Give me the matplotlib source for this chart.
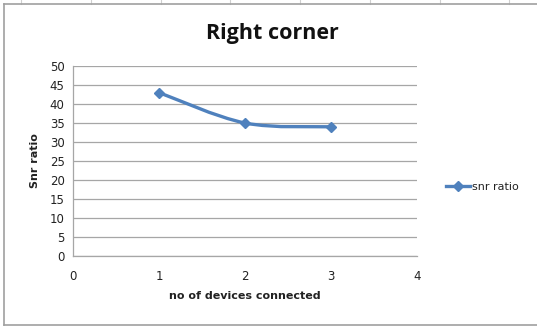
import matplotlib
matplotlib.use("Agg")
import matplotlib.pyplot as plt
import numpy as np
from matplotlib.path import Path
from matplotlib.patches import PathPatch
from matplotlib.lines import Line2D

# Data
devices = [1, 2, 3]
snr = [43, 35, 34]
series_name = "snr ratio"

title = "Right corner"
xLabel = "no of devices connected"
yLabel = "Snr ratio"
xTicks = [0, 1, 2, 3, 4]
yTicks = list(range(0, 55, 5))

lineColor = "#4F81BD"
gridColor = "#A6A6A6"

fig = plt.figure(figsize=(5.37, 3.27), dpi=100)
fig.patch.set_facecolor("white")

# outer chart border (Excel chart area) + bits of sheet grid above it
W, H = 537, 327
for gx in [21, 91, 161, 230, 300, 370, 440, 509]:
    fig.add_artist(Line2D([gx / W, gx / W], [1, 1 - 4 / H], color="#D0D0D0", lw=0.8))
fig.add_artist(Line2D([4 / W, 4 / W], [1 - 4 / H, 1 - 325 / H], color="#A0A0A0", lw=1.2))
fig.add_artist(Line2D([4 / W, 1], [1 - 4 / H, 1 - 4 / H], color="#A0A0A0", lw=1.2))
fig.add_artist(Line2D([4 / W, 1], [1 - 325 / H, 1 - 325 / H], color="#A0A0A0", lw=1.2))

ax = fig.add_axes([73 / W, 1 - 256 / H, (417 - 73) / W, (256 - 66) / H])
ax.set_xlim(0, 4)
ax.set_ylim(0, 50)
ax.set_xticks(xTicks)
ax.set_yticks(yTicks)
ax.yaxis.grid(True, color=gridColor, lw=0.9)
ax.set_axisbelow(True)
for s in ["top", "right"]:
    ax.spines[s].set_visible(False)
for s in ["left", "bottom"]:
    ax.spines[s].set_color(gridColor)
    ax.spines[s].set_linewidth(0.9)
ax.tick_params(length=0, labelsize=8.5, labelcolor="#222222", pad=6)
ax.tick_params(axis="x", pad=10)

# smoothed line (Excel-style) as a Bezier path through the data points
xs = np.array(devices, dtype=float)
ys = np.array(snr, dtype=float)
verts = [(xs[0], ys[0])]
codes = [Path.MOVETO]
t = 1 / 6
for i in range(len(xs) - 1):
    p0 = (xs[max(i - 1, 0)], ys[max(i - 1, 0)])
    p1 = (xs[i], ys[i])
    p2 = (xs[i + 1], ys[i + 1])
    p3 = (xs[min(i + 2, len(xs) - 1)], ys[min(i + 2, len(xs) - 1)])
    c1 = (p1[0] + (p2[0] - p0[0]) * t, p1[1] + (p2[1] - p0[1]) * t)
    c2 = (p2[0] - (p3[0] - p1[0]) * t, p2[1] - (p3[1] - p1[1]) * t)
    verts += [c1, c2, p2]
    codes += [Path.CURVE4] * 3
ax.add_patch(PathPatch(Path(verts, codes), fill=False, edgecolor=lineColor,
                       lw=2.4, capstyle="round", joinstyle="round"))
ax.plot(devices, snr, linestyle="none", marker="D", markersize=5.5,
        color=lineColor, label=series_name)

ax.set_xlabel(xLabel, fontsize=8, fontweight="bold", color="#222222", labelpad=6)
ax.set_ylabel(yLabel, fontsize=8, fontweight="bold", color="#222222", labelpad=7)
fig.text(272 / W, 1 - 33 / H, title, fontsize=15.5, fontweight="bold",
         ha="center", va="center", color="#111111", family="Open Sans")

handle = Line2D([], [], color=lineColor, lw=2.4, marker="D", markersize=5)
fig.legend([handle], [series_name], loc="center left",
           bbox_to_anchor=(436 / W, 1 - 187 / H), frameon=False,
           fontsize=8, handlelength=2.2, handletextpad=0.1, labelcolor="#222222")

plt.savefig("out.png", dpi=100, facecolor="white")
